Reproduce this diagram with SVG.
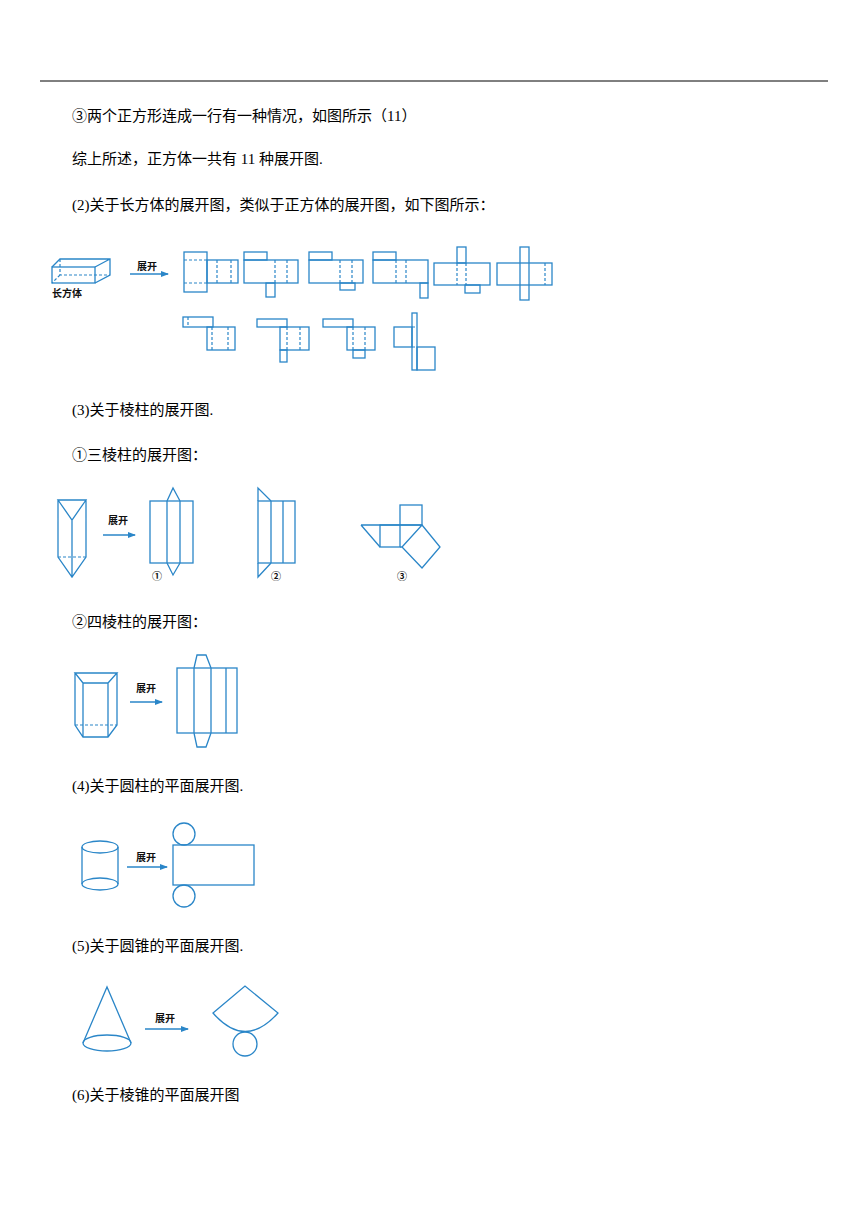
<svg xmlns="http://www.w3.org/2000/svg" width="868" height="1227" viewBox="0 0 868 1227">
<style>
.t{font-family:"Liberation Serif","Noto Sans CJK SC",serif;font-size:15px;fill:#000}
.l{font-family:"Noto Sans CJK SC",sans-serif;font-size:10px;fill:#111;font-weight:bold}
.s{fill:none;stroke:#2a86c8;stroke-width:1.3}
.d{fill:none;stroke:#2a86c8;stroke-width:1.2;stroke-dasharray:3,2}
.a{stroke:#2a86c8;stroke-width:1.5;marker-end:url(#ar)}
</style>
<defs><marker id="ar" markerWidth="8" markerHeight="8" refX="7" refY="4" orient="auto" markerUnits="userSpaceOnUse"><path d="M0,1L8,4L0,7z" fill="#2a86c8"/></marker></defs>
<rect width="868" height="1227" fill="#fff"/>
<line x1="40" y1="81" x2="828" y2="81" stroke="#000" stroke-width="1"/>
<text class="t" x="72" y="121">③两个正方形连成一行有一种情况，如图所示（11）</text>
<text class="t" x="72" y="164">综上所述，正方体一共有 11 种展开图.</text>
<text class="t" x="72" y="210">(2)关于长方体的展开图，类似于正方体的展开图，如下图所示：</text>
<text class="t" x="72" y="415">(3)关于棱柱的展开图.</text>
<text class="t" x="72" y="460">①三棱柱的展开图：</text>
<text class="t" x="72" y="627">②四棱柱的展开图：</text>
<text class="t" x="72" y="791">(4)关于圆柱的平面展开图.</text>
<text class="t" x="72" y="951">(5)关于圆锥的平面展开图.</text>
<text class="t" x="72" y="1100">(6)关于棱锥的平面展开图</text>

<g id="cuboid">
<rect class="s" x="52" y="267" width="43" height="16"/>
<path class="s" d="M52,267L60,259H110V275L95,283M95,267L110,259"/>
<path class="d" d="M60,259V275H110M60,275L52,283"/>
<text class="l" x="52" y="297">长方体</text>
<line class="a" x1="130" y1="274" x2="168" y2="274"/>
<text class="l" x="137" y="270">展开</text>
</g>
<g id="cuboid-nets">
<rect class="s" x="184" y="252" width="23" height="40"/><rect class="s" x="207" y="260" width="31" height="23"/>
<path class="d" d="M184,260H207M184,283H207M217,260V283M231,260V283"/>
<rect class="s" x="244" y="252" width="23" height="8"/><rect class="s" x="244" y="260" width="54" height="23"/><rect class="s" x="266" y="283" width="9" height="14"/>
<path class="d" d="M275,260V283M287,260V283"/>
<rect class="s" x="309" y="252" width="23" height="8"/><rect class="s" x="309" y="260" width="54" height="23"/><rect class="s" x="340" y="283" width="15" height="7"/>
<path class="d" d="M340,260V283M352,260V283"/>
<rect class="s" x="373" y="252" width="23" height="8"/><rect class="s" x="373" y="260" width="55" height="23"/><rect class="s" x="420" y="283" width="8" height="15"/>
<path class="d" d="M396,260V283M406,260V283"/>
<rect class="s" x="434" y="263" width="56" height="22"/><rect class="s" x="457" y="247" width="9" height="16"/><rect class="s" x="465" y="285" width="15" height="8"/>
<path class="d" d="M457,263V285M466,263V285"/>
<rect class="s" x="497" y="263" width="55" height="22"/><rect class="s" x="520" y="247" width="9" height="53"/>
<path class="d" d="M545,263V285"/>
<rect class="s" x="183" y="317" width="30" height="10"/><rect class="s" x="207" y="327" width="28" height="23"/>
<path class="d" d="M188,317V327M212,327V350M228,327V350"/>
<rect class="s" x="257" y="319" width="30" height="8"/><rect class="s" x="280" y="327" width="29" height="23"/><rect class="s" x="280" y="350" width="7" height="12"/>
<path class="d" d="M287,327V350M300,327V350"/>
<rect class="s" x="323" y="319" width="30" height="8"/><rect class="s" x="347" y="327" width="28" height="23"/><rect class="s" x="353" y="350" width="12" height="8"/>
<path class="d" d="M353,327V350M365,327V350"/>
<rect class="s" x="412" y="313" width="5" height="57"/><rect class="s" x="394" y="327" width="18" height="20"/><rect class="s" x="417" y="347" width="18" height="23"/>
<path class="d" d="M412,327H417M412,347H417"/>
</g>
<g id="tri-prism">
<path class="s" d="M58,500H86L72,520ZM58,500V557L72,577L86,557V500M72,520V577"/>
<path class="d" d="M58,557H86"/>
<line class="a" x1="103" y1="535" x2="135" y2="535"/>
<text class="l" x="108" y="524">展开</text>
</g>
<g id="tri-net1">
<rect class="s" x="150" y="501" width="43" height="62"/>
<path class="s" d="M167,501V563M180,501V563M167,501L173,488L180,501M167,563L173,575L180,563"/>
<text class="l" x="152" y="580">①</text>
</g>
<g id="tri-net2">
<rect class="s" x="258" y="501" width="37" height="62"/>
<path class="s" d="M271,501V563M283,501V563M258,501V488L271,501M258,563V577L271,563"/>
<text class="l" x="271" y="580">②</text>
</g>
<g id="tri-net3">
<rect class="s" x="400" y="505" width="22" height="20"/><rect class="s" x="380" y="525" width="20" height="22"/>
<path class="s" d="M361,525H422M361,525L380,547M400,547H402M422,525L440,547L422,568L402,547Z"/>
<text class="l" x="397" y="580">③</text>
</g>
<g id="quad-prism">
<path class="s" d="M75,673H117L108,683H83ZM75,673V725L83,737H108L117,725V673M83,683V737M108,683V737"/>
<path class="d" d="M75,725H117"/>
<line class="a" x1="130" y1="702" x2="162" y2="702"/>
<text class="l" x="136" y="692">展开</text>
</g>
<g id="quad-net">
<rect class="s" x="177" y="668" width="60" height="65"/>
<path class="s" d="M194,668V733M211,668V733M226,668V733M194,668L197,655H206L211,668M194,733L197,747H206L211,733"/>
</g>
<g id="cylinder">
<ellipse class="s" cx="100" cy="847" rx="18" ry="6"/>
<ellipse class="s" cx="100" cy="884" rx="18" ry="6"/>
<path class="s" d="M82,847V884M118,847V884"/>
<line class="a" x1="127" y1="867" x2="167" y2="867"/>
<text class="l" x="136" y="861">展开</text>
</g>
<g id="cylinder-net">
<rect class="s" x="173" y="845" width="81" height="40"/>
<circle class="s" cx="184" cy="834" r="11"/>
<circle class="s" cx="184" cy="896" r="11"/>
</g>
<g id="cone">
<path class="s" d="M83,1043L107,987L131,1043"/>
<ellipse class="s" cx="107" cy="1043" rx="24" ry="8"/>
<line class="a" x1="145" y1="1029" x2="188" y2="1029"/>
<text class="l" x="155" y="1022">展开</text>
</g>
<g id="cone-net">
<path class="s" d="M213,1013L245,986L278,1013Q245,1050 213,1013Z"/>
<circle class="s" cx="245" cy="1044" r="12"/>
</g>
</svg>
